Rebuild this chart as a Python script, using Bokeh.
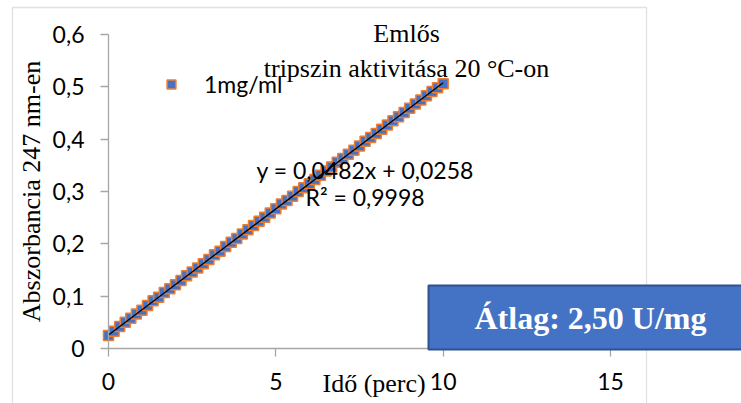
from bokeh.plotting import figure
from bokeh.models import (Label, BoxAnnotation, Legend, LegendItem, FixedTicker,
                          CustomJSTickFormatter, Range1d, ColumnDataSource)
from bokeh.embed import file_html
from bokeh.resources import INLINE

# ---- data ----
time_min = [0.0, 0.167, 0.333, 0.5, 0.667, 0.833, 1.0, 1.167, 1.333, 1.5,
            1.667, 1.833, 2.0, 2.167, 2.333, 2.5, 2.667, 2.833, 3.0, 3.167,
            3.333, 3.5, 3.667, 3.833, 4.0, 4.167, 4.333, 4.5, 4.667, 4.833,
            5.0, 5.167, 5.333, 5.5, 5.667, 5.833, 6.0, 6.167, 6.333, 6.5,
            6.667, 6.833, 7.0, 7.167, 7.333, 7.5, 7.667, 7.833, 8.0, 8.167,
            8.333, 8.5, 8.667, 8.833, 9.0, 9.167, 9.333, 9.5, 9.667, 9.833, 10.0]
absorbance = [0.025, 0.033, 0.042, 0.050, 0.058, 0.066, 0.073, 0.082, 0.091, 0.098,
              0.107, 0.114, 0.122, 0.130, 0.139, 0.146, 0.154, 0.162, 0.170, 0.179,
              0.186, 0.195, 0.203, 0.210, 0.219, 0.227, 0.235, 0.243, 0.251, 0.259,
              0.267, 0.276, 0.283, 0.291, 0.300, 0.307, 0.315, 0.323, 0.331, 0.339,
              0.347, 0.356, 0.363, 0.371, 0.379, 0.387, 0.396, 0.403, 0.411, 0.419,
              0.427, 0.435, 0.443, 0.451, 0.459, 0.467, 0.475, 0.483, 0.491, 0.498, 0.506]
series_name = "1mg/ml"
trend_slope = 0.0482
trend_intercept = 0.0258
equation_text = "y = 0,0482x + 0,0258"
r2_text = "R² = 0,9998"
title_lines = ["Emlős", "tripszin aktivitása 20 °C-on"]
x_title = "Idő (perc)"
y_title = "Abszorbancia 247 nm-en"
badge_text = "Átlag: 2,50 U/mg"
x_ticks = [0, 5, 10, 15]
x_tick_labels = ["0", "5", "10", "15"]
y_ticks = [0, 0.1, 0.2, 0.3, 0.4, 0.5, 0.6]
y_tick_labels = ["0", "0,1", "0,2", "0,3", "0,4", "0,5", "0,6"]

SANS = "Lato"
SERIF = "Liberation Serif"
AX = "#a6a6a6"

# frame covers the whole chart area; axes are pinned at x=0 / y=0
p = figure(width=741, height=403, x_range=Range1d(-2.928, 18.914), y_range=Range1d(-0.1051, 0.6554),
           output_backend="svg", toolbar_location=None,
           min_border_left=10, min_border_right=0, min_border_top=5, min_border_bottom=0)
p.xgrid.visible = False
p.ygrid.visible = False
p.outline_line_color = None
p.background_fill_color = "white"
p.border_fill_color = "white"

fmt_code = """
const i = tvals.findIndex(t => Math.abs(t - tick) < 1e-9);
return i >= 0 ? tlabels[i] : "";
"""
p.xaxis.ticker = FixedTicker(ticks=x_ticks)
p.xaxis.formatter = CustomJSTickFormatter(args=dict(tvals=x_ticks, tlabels=x_tick_labels), code=fmt_code)
p.yaxis.ticker = FixedTicker(ticks=y_ticks)
p.yaxis.formatter = CustomJSTickFormatter(args=dict(tvals=y_ticks, tlabels=y_tick_labels), code=fmt_code)
p.xaxis.fixed_location = 0
p.yaxis.fixed_location = 0
p.xaxis.bounds = (x_ticks[0], x_ticks[-1])
p.yaxis.bounds = (y_ticks[0], y_ticks[-1])

for ax in (p.xaxis, p.yaxis):
    ax.axis_line_color = AX
    ax.axis_line_width = 1.3
    ax.major_tick_line_color = AX
    ax.major_tick_line_width = 1.3
    ax.major_tick_out = 8
    ax.major_tick_in = 0
    ax.minor_tick_line_color = None
    ax.major_label_text_font = SANS
    ax.major_label_text_font_size = "23px"
    ax.major_label_text_color = "black"

p.yaxis.major_label_standoff = 16
p.xaxis.major_label_standoff = 17
p.yaxis.axis_label = y_title
p.yaxis.axis_label_text_font = SERIF
p.yaxis.axis_label_text_font_size = "26px"
p.yaxis.axis_label_text_font_style = "normal"
p.yaxis.axis_label_text_color = "black"
p.yaxis.axis_label_standoff = 4

# chart outer border
p.add_layout(BoxAnnotation(left=-2.8685, right=16.076, top=0.6516, bottom=-0.3,
                           fill_color=None, fill_alpha=0, line_color="#9a9a9a", line_width=1.3))

src = ColumnDataSource(dict(t=time_min, a=absorbance))
sc = p.scatter(x="t", y="a", source=src, marker="square", size=10,
               fill_color="#4472C4", line_color="#ED7D31", line_width=1.5)
t0, t1 = min(time_min), max(time_min)
p.line(x=[t0, t1], y=[trend_intercept + trend_slope * t0, trend_intercept + trend_slope * t1],
       line_color="black", line_width=1.3)

legend = Legend(items=[LegendItem(label=series_name, renderers=[sc])], location=(150, 305),
                glyph_width=22, glyph_height=22, label_standoff=22, padding=0, margin=0,
                border_line_color=None, background_fill_alpha=0,
                label_text_font=SANS, label_text_font_size="23px", label_text_color="black")
p.add_layout(legend)

def lab(text, x, y, font, size, **kw):
    p.add_layout(Label(x=x, y=y, text=text, text_font=font, text_font_size=size,
                       text_color=kw.pop("color", "black"), **kw))

lab(title_lines[0], 8.905, 0.6017, SERIF, "26px", text_align="center", text_baseline="alphabetic")
lab(title_lines[1], 8.905, 0.5353, SERIF, "26px", text_align="center", text_baseline="alphabetic")
lab(equation_text, 4.422, 0.342, SANS, "23px", text_align="left", text_baseline="alphabetic")
lab(r2_text, 5.886, 0.289, SANS, "23px", text_align="left", text_baseline="alphabetic")
lab(x_title, 6.394, -0.0669, SERIF, "26px", text_align="left", text_baseline="alphabetic")

p.add_layout(Label(x=9.562, y=0.0592, text=badge_text, text_font=SERIF, text_font_style="bold",
                   text_font_size="32px", text_color="white",
                   background_fill_color="#4472C4", border_line_color="#2F528F", border_line_width=2,
                   padding=dict(left=46, right=60, top=14, bottom=14),
                   text_align="left", text_baseline="middle"))

open("out.html", "w").write(file_html(p, INLINE))
